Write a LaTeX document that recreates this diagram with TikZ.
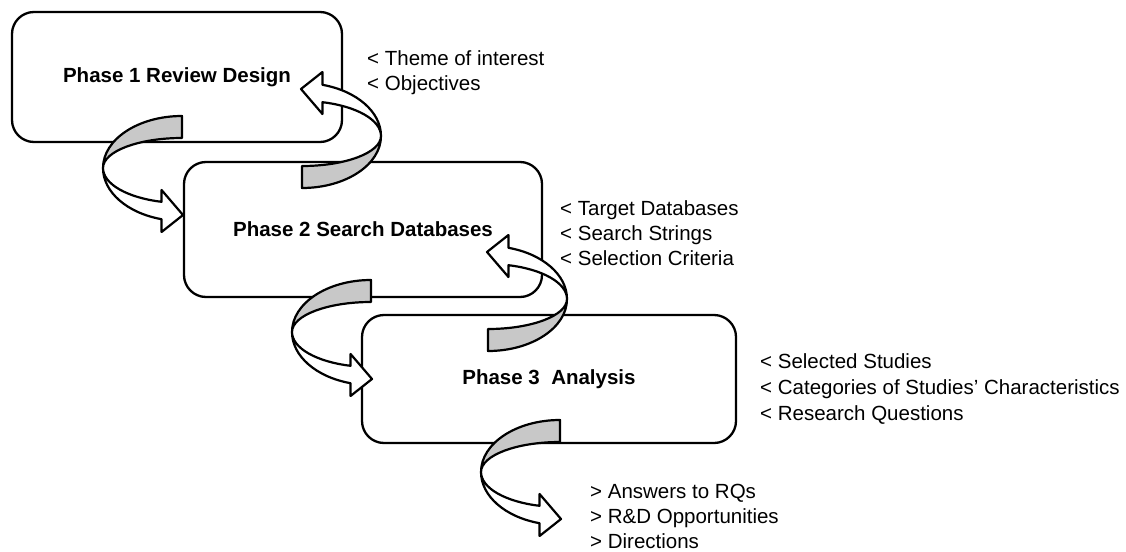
\documentclass[tikz,border=0pt]{standalone}
\usepackage{fontspec}
\setmainfont{Liberation Sans}
\definecolor{backgray}{RGB}{200,200,200}
\tikzset{
  phasebox/.style={draw, line width=2.3pt, rounded corners=22pt, inner sep=0pt,
    font=\fontsize{20.5}{24}\selectfont\bfseries},
  sidetext/.style={anchor=base west, inner sep=0pt, font=\fontsize{20.5}{24}\selectfont},
  ribbon/.style={draw=black, line width=2.2pt, line join=round},
  pics/curvedarrow/.style={code={
    \draw[ribbon, fill=backgray] (0,-52)
      arc[start angle=-90, end angle=-180, x radius=79, y radius=52]
      arc[start angle=180, end angle=270, x radius=79, y radius=30] -- cycle;
    \draw[ribbon, fill=white] (-79,0)
      arc[start angle=180, end angle=105, x radius=79, y radius=53]
      -- (-20.45,64) -- (1,47) -- (-20.45,22) -- (-20.45,33.8)
      arc[start angle=105, end angle=180, x radius=79, y radius=35] -- cycle;
  }}
}
\begin{document}
\begin{tikzpicture}[x=1pt, y=-1pt]
\useasboundingbox (0,0) rectangle (1126,551);
% phase boxes
\node[phasebox, minimum width=330pt, minimum height=130pt] (b1) at (177,77) {Phase 1 Review Design};
\node[phasebox, minimum width=358pt, minimum height=135pt] (b2) at (363,229.5) {Phase 2 Search Databases};
\node[phasebox, minimum width=374pt, minimum height=128pt] (b3) at (549,379) {Phase 3\ \ Analysis};
% curved arrows
\coordinate (c1) at (182,168);
\coordinate (c2) at (302,136);
\coordinate (c3) at (371,332);
\coordinate (c4) at (488,299);
\coordinate (c5) at (560,472);
\pic at (c1) {curvedarrow};
\pic[rotate=180] at (c2) {curvedarrow};
\pic at (c3) {curvedarrow};
\pic[rotate=180] at (c4) {curvedarrow};
\pic at (c5) {curvedarrow};
% side texts
\node[sidetext] (t11) at (367,65) {< Theme of interest};
\node[sidetext] (t12) at (367,90) {< Objectives};
\node[sidetext] (t21) at (560,215) {< Target Databases};
\node[sidetext] (t22) at (560,240) {< Search Strings};
\node[sidetext] (t23) at (560,265) {< Selection Criteria};
\node[sidetext] (t31) at (760,368) {< Selected Studies};
\node[sidetext] (t32) at (760,394) {< Categories of Studies' Characteristics};
\node[sidetext] (t33) at (760,420) {< Research Questions};
\node[sidetext] (t41) at (590,498) {> Answers to RQs};
\node[sidetext] (t42) at (590,523) {> R\&D Opportunities};
\node[sidetext] (t43) at (590,548) {> Directions};
\end{tikzpicture}
\end{document}
